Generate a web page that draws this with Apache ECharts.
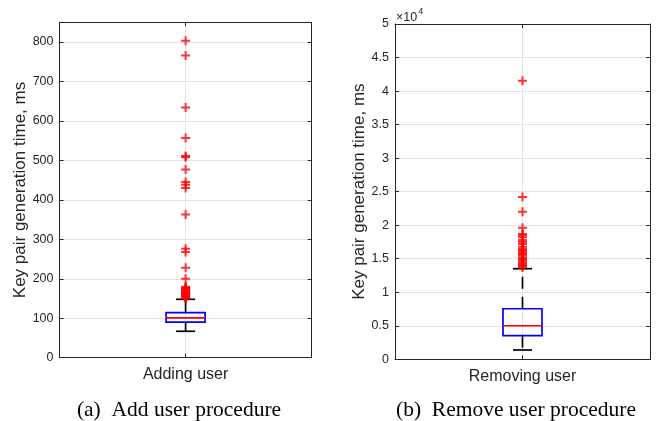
<!DOCTYPE html>
<html>
<head>
<meta charset="utf-8">
<script src="https://cdn.jsdelivr.net/npm/echarts@6/dist/echarts.min.js"></script>
<style>html,body{margin:0;padding:0;background:#fff}#c{width:658px;height:421px}</style>
</head>
<body>
<div id="c"></div>
<script>
// ---- data ----
const categories = ['Adding user', 'Removing user'];
const captions = ['(a)  Add user procedure', '(b)  Remove user procedure'];
const yAxisName = 'Key pair generation time, ms';
// box stats: [min whisker, Q1, median, Q3, max whisker]
const addBox = [67, 90, 101, 114, 148];
const removeBox = [1390, 3520, 5010, 7540, 13510];
const addOutliers = [803, 766, 634, 557, 511, 508, 477, 445, 438, 430, 363, 276, 268, 228, 200,
  180, 178, 176, 174, 172, 170, 168, 166, 164, 162, 160, 158, 156, 154, 152, 151, 150];
const removeOutliers = [41550, 24200, 22000, 19600, 18700, 18500, 18200, 17800, 17500, 17200, 16800,
  16500, 16300, 16100, 15900, 15700, 15500, 15200, 15000, 14800, 14500, 14300, 14100, 13900, 13700];
const leftTicks = { min: 0, max: 850, interval: 100 };
const rightTicks = { min: 0, max: 50000, interval: 5000 };

const AXC = '#262626', GRIDC = '#e3e3e3';
const plus = 'path://M3.5,0H5.5V3.5H9V5.5H5.5V9H3.5V5.5H0V3.5H3.5Z';

function xAxes(gi, label) {
  return [
    { gridIndex: gi, type: 'value', min: 0, max: 2, interval: 1, position: 'bottom',
      axisLine: { show: true, onZero: false, lineStyle: { color: AXC, width: 1 } },
      axisTick: { show: true, inside: true, length: 4, lineStyle: { color: AXC } },
      splitLine: { show: true, lineStyle: { color: GRIDC, width: 1 } },
      axisLabel: { margin: 9, fontSize: 16, color: AXC, fontFamily: 'Liberation Sans, Arial',
        formatter: v => (v === 1 ? label : '') } },
    { gridIndex: gi, type: 'value', min: 0, max: 2, interval: 1, position: 'top',
      axisLine: { show: true, onZero: false, lineStyle: { color: AXC, width: 1 } },
      axisTick: { show: true, inside: true, length: 4, lineStyle: { color: AXC } },
      splitLine: { show: false }, axisLabel: { show: false } }
  ];
}
function yAxes(gi, t, fmt, gap) {
  return [
    { gridIndex: gi, type: 'value', min: t.min, max: t.max, interval: t.interval, position: 'left',
      name: yAxisName, nameLocation: 'middle', nameGap: gap, nameRotate: 90,
      nameTextStyle: { fontSize: 17, color: AXC, fontFamily: 'Liberation Sans, Arial' },
      axisLine: { show: true, onZero: false, lineStyle: { color: AXC, width: 1 } },
      axisTick: { show: true, inside: true, length: 4, lineStyle: { color: AXC } },
      splitLine: { show: true, lineStyle: { color: GRIDC, width: 1 } },
      axisLabel: { margin: 6, fontSize: 12.5, color: AXC, fontFamily: 'Liberation Sans, Arial', formatter: fmt } },
    { gridIndex: gi, type: 'value', min: t.min, max: t.max, interval: t.interval, position: 'right',
      axisLine: { show: true, onZero: false, lineStyle: { color: AXC, width: 1 } },
      axisTick: { show: true, inside: true, length: 4, lineStyle: { color: AXC } },
      splitLine: { show: false }, axisLabel: { show: false } }
  ];
}

function renderBox(params, api) {
  const x = api.value(0);
  const p = [1, 2, 3, 4, 5].map(i => api.coord([x, api.value(i)]));
  const cx = p[0][0];
  const hw = 19.5, cw = 9.5;
  const blk = { stroke: '#000', lineWidth: 1.7 };
  const dash = { stroke: '#000', lineWidth: 1.7, lineDash: [12, 8] };
  return { type: 'group', children: [
    { type: 'line', shape: { x1: cx, y1: p[3][1], x2: cx, y2: p[4][1] }, style: dash },
    { type: 'line', shape: { x1: cx, y1: p[1][1], x2: cx, y2: p[0][1] }, style: dash },
    { type: 'line', shape: { x1: cx - cw, y1: p[4][1], x2: cx + cw, y2: p[4][1] }, style: blk },
    { type: 'line', shape: { x1: cx - cw, y1: p[0][1], x2: cx + cw, y2: p[0][1] }, style: blk },
    { type: 'rect', shape: { x: cx - hw, y: p[3][1], width: 2 * hw, height: p[1][1] - p[3][1] },
      style: { stroke: '#0000ff', fill: 'none', lineWidth: 1.7 } },
    { type: 'line', shape: { x1: cx - hw, y1: p[2][1], x2: cx + hw, y2: p[2][1] },
      style: { stroke: '#ff0000', lineWidth: 1.6 } }
  ] };
}

const chart = echarts.init(document.getElementById('c'), null, { renderer: 'canvas' });
chart.setOption({
  animation: false,
  backgroundColor: '#fff',
  title: [
    { text: captions[0], left: 174, top: 394, textAlign: 'center',
      textStyle: { fontFamily: 'Liberation Serif, Times New Roman', fontSize: 21.5, fontWeight: 'normal', color: '#000' } },
    { text: captions[1], left: 511, top: 394, textAlign: 'center',
      textStyle: { fontFamily: 'Liberation Serif, Times New Roman', fontSize: 21.5, fontWeight: 'normal', color: '#000' } }
  ],
  grid: [
    { left: 59.5, top: 22.3, width: 252.2, height: 335.4, containLabel: false },
    { left: 395, top: 24, width: 255, height: 335.3, containLabel: false }
  ],
  xAxis: [...xAxes(0, categories[0]), ...xAxes(1, categories[1])],
  yAxis: [
    ...yAxes(0, leftTicks, v => (v % 100 === 0 ? String(v) : ''), 20),
    ...yAxes(1, rightTicks, v => (v % 5000 === 0 ? String(v / 10000) : ''), 14)
  ],
  graphic: [
    { type: 'text', left: 396, top: 7, style: {
      text: '{a|×10}{b|4}', rich: {
        a: { fontSize: 12.5, fill: AXC, fontFamily: 'Liberation Sans, Arial', verticalAlign: 'bottom' },
        b: { fontSize: 9, fill: AXC, fontFamily: 'Liberation Sans, Arial', verticalAlign: 'top', padding: [0, 0, 8, 1] } } } }
  ],
  series: [
    { type: 'custom', xAxisIndex: 0, yAxisIndex: 0, renderItem: renderBox, data: [[1, ...addBox]], z: 3 },
    { type: 'custom', xAxisIndex: 2, yAxisIndex: 2, renderItem: renderBox, data: [[1, ...removeBox]], z: 3 },
    { type: 'scatter', xAxisIndex: 0, yAxisIndex: 0, symbol: plus, symbolSize: 9,
      itemStyle: { color: '#ff0000' }, data: addOutliers.map(v => [1, v]), z: 4 },
    { type: 'scatter', xAxisIndex: 2, yAxisIndex: 2, symbol: plus, symbolSize: 9,
      itemStyle: { color: '#ff0000' }, data: removeOutliers.map(v => [1, v]), z: 4 }
  ]
});
</script>
</body>
</html>
